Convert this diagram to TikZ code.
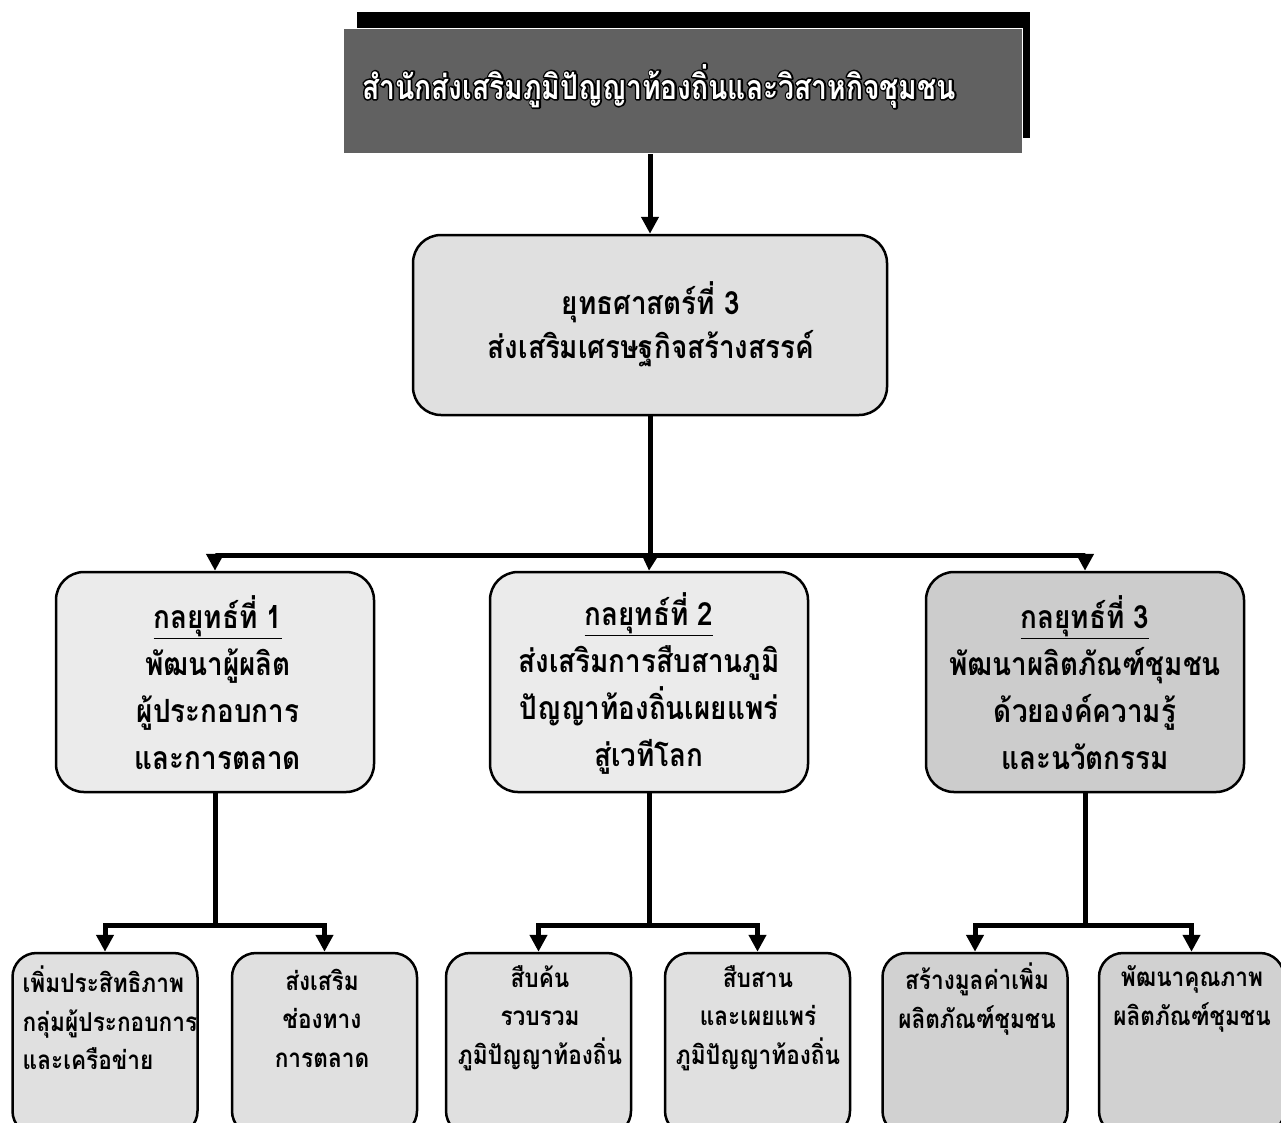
\documentclass[tikz,border=0pt]{standalone}
\usepackage{fontspec}
\newfontfamily\thaifont[Script=Thai,FakeStretch=0.87]{Loma}
\newfontfamily\titlefont[Script=Thai,FakeStretch=0.83]{Loma}
\usetikzlibrary{arrows.meta}
\newcommand\outlinedtext[1]{\rlap{\special{pdf:literal direct 1 Tr 3.2 w 1 j 0 0 0 RG}#1\special{pdf:literal direct 0 Tr}}#1}
\begin{document}
\begin{tikzpicture}[x=1pt,y=-1pt,
  every node/.style={font=\thaifont},
  box/.style={draw=black, line width=2.5pt, rounded corners=28pt, inner sep=0pt},
  topbox/.style={box, fill=black!12, minimum width=474pt, minimum height=180pt},
  midbox/.style={box, minimum width=318pt, minimum height=220pt},
  lowbox/.style={box, rounded corners=24pt, fill=black!12, minimum width=185pt, minimum height=182pt},
  conn/.style={line width=5pt},
  arr/.style={conn, -{Triangle[length=17pt,width=17pt]}},
  midtext/.style={align=center, font=\thaifont\bfseries\fontsize{32}{47}\selectfont},
  lowtext/.style={align=center, font=\thaifont\bfseries\fontsize{26}{38.5}\selectfont},
]
\clip (0,0) rectangle (1281,1122);
\fill[white] (0,0) rectangle (1281,1122);

% title block with shadow
\fill[black] (357,12) rectangle (1030,138);
\node[fill=black!62, draw=white, line width=1pt, minimum width=679pt, minimum height=125pt, inner sep=0pt] (title) at (683,91) {};
\node[text=white, font=\titlefont\bfseries\fontsize{34}{36}\selectfont] (ttext) at (659,86) {\outlinedtext{สำนักส่งเสริมภูมิปัญญาท้องถิ่นและวิสาหกิจชุมชน}};

% strategy box
\node[topbox] (mid) at (650,325) {};
\node[midtext, font=\thaifont\bfseries\fontsize{32}{44}\selectfont] (midt) at (651,324) {ยุทธศาสตร์ที่ 3\\ส่งเสริมเศรษฐกิจสร้างสรรค์};

% tactic boxes
\node[midbox, fill=black!8] (s1) at (215,682) {};
\node[midbox, fill=black!8] (s2) at (649,682) {};
\node[midbox, fill=black!20] (s3) at (1085,682) {};
\node[midtext] (s1t) at (218,683) {\underline{กลยุทธ์ที่ 1}\\พัฒนาผู้ผลิต\\ผู้ประกอบการ\\และการตลาด};
\node[midtext] (s2t) at (649,683) {\underline{กลยุทธ์ที่ 2}\\ส่งเสริมการสืบสานภูมิ\\ปัญญาท้องถิ่นเผยแพร่\\สู่เวทีโลก};
\node[midtext] (s3t) at (1085,683) {\underline{กลยุทธ์ที่ 3}\\พัฒนาผลิตภัณฑ์ชุมชน\\ด้วยองค์ความรู้\\และนวัตกรรม};

% bottom boxes
\node[lowbox] (a) at (105,1044) {};
\node[lowbox] (b) at (324.5,1044) {};
\node[lowbox] (c) at (538.5,1044) {};
\node[lowbox] (d) at (757.5,1044) {};
\node[lowbox, fill=black!18] (e) at (975,1044) {};
\node[lowbox, fill=black!18] (f) at (1191.5,1044) {};
\node[lowtext, align=left] (at) at (110,1018) {เพิ่มประสิทธิภาพ\\กลุ่มผู้ประกอบการ\\และเครือข่าย};
\node[lowtext] (bt) at (322,1018) {ส่งเสริม\\ช่องทาง\\การตลาด};
\node[lowtext] (ct) at (540,1018) {สืบค้น\\รวบรวม\\ภูมิปัญญาท้องถิ่น};
\node[lowtext] (dt) at (758,1018) {สืบสาน\\และเผยแพร่\\ภูมิปัญญาท้องถิ่น};
\node[lowtext] (et) at (977,999) {สร้างมูลค่าเพิ่ม\\ผลิตภัณฑ์ชุมชน};
\node[lowtext] (ft) at (1192,999) {พัฒนาคุณภาพ\\ผลิตภัณฑ์ชุมชน};

% connectors
\draw[arr] (title.south -| mid.north) -- (mid.north);
\coordinate (j0) at (650,555);
\draw[conn] (mid.south) -- (j0);
\draw[arr] (j0) -| (s1.north);
\draw[arr] (j0) -| (s3.north);
\draw[arr] (j0) -- (s2.north);

\coordinate (j1) at (215,925);
\draw[conn] (s1.south) -- (j1);
\draw[arr] (j1) -| (a.north);
\draw[arr] (j1) -| (b.north);

\coordinate (j2) at (649,925);
\draw[conn] (s2.south) -- (j2);
\draw[arr] (j2) -| (c.north);
\draw[arr] (j2) -| (d.north);

\coordinate (j3) at (1085,925);
\draw[conn] (s3.south) -- (j3);
\draw[arr] (j3) -| (e.north);
\draw[arr] (j3) -| (f.north);
\end{tikzpicture}
\end{document}
